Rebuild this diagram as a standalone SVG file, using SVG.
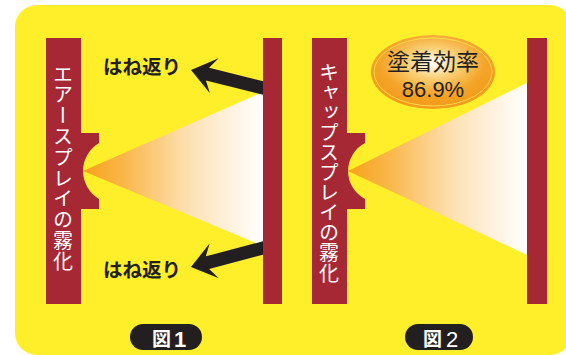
<svg xmlns="http://www.w3.org/2000/svg" width="566" height="355" viewBox="0 0 566 355">
<defs>
<style>
.bar{fill:#A52834;}
.vt{font-family:"Noto Sans CJK JP","Noto Sans",sans-serif;font-size:20px;fill:#FFFFFF;writing-mode:vertical-rl;}
.lbl{font-family:"Noto Sans CJK JP","Noto Sans",sans-serif;font-size:19.5px;font-weight:bold;fill:#231F20;}
.arrow{fill:#231F20;}
.pill{fill:#231F20;}
.pt{font-family:"Noto Sans CJK JP","Liberation Sans",sans-serif;font-size:19px;font-weight:bold;fill:#FFFFFF;}
.pn{font-family:"Liberation Sans",sans-serif;font-size:22px;font-weight:bold;fill:#FFFFFF;}
</style>
<linearGradient id="cone1" gradientUnits="userSpaceOnUse" x1="83" y1="0" x2="263" y2="0">
<stop offset="0" stop-color="#F7A21B"/>
<stop offset="0.2" stop-color="#F9B443"/>
<stop offset="0.6" stop-color="#FDE2B6"/>
<stop offset="1" stop-color="#FFFFFF"/>
</linearGradient>
<linearGradient id="cone2" gradientUnits="userSpaceOnUse" x1="348" y1="0" x2="527" y2="0">
<stop offset="0" stop-color="#F7A21B"/>
<stop offset="0.2" stop-color="#F9B443"/>
<stop offset="0.6" stop-color="#FDE2B6"/>
<stop offset="1" stop-color="#FFFFFF"/>
</linearGradient>
<radialGradient id="oval" cx="0.5" cy="0.38" r="0.55">
<stop offset="0" stop-color="#FFFFFF"/>
<stop offset="0.35" stop-color="#FAD27A"/>
<stop offset="0.75" stop-color="#F4A52A"/>
<stop offset="1" stop-color="#F39C1E"/>
</radialGradient>
<path id="arr" d="M0,0 L24,-18 L17,-6.5 L78,-6.5 L78,6.5 L17,6.5 L24,18 Z"/>
</defs>

<rect x="15" y="5" width="557" height="350" rx="22" fill="#FFEF2A"/>

<g id="figure1">
<polygon id="cone-1" points="83,171 263,92 263,246" fill="url(#cone1)"/>
<g id="connectors">
<use href="#arr" class="arrow" transform="translate(191,70) rotate(14)"/>
<use href="#arr" class="arrow" transform="translate(191,267) rotate(-14.8)"/>
</g>
<g id="spray-air">
<path class="bar" d="M46,38 H81 V133 H99 V143 A32.5,32.5 0 0 0 99,199 V209 H81 V304 H46 Z"/>
<text class="vt" x="63" y="64" style="letter-spacing:0.8px">エアースプレイの霧化</text>
</g>
<g id="wall-1">
<rect class="bar" x="263" y="38" width="19" height="266"/>
</g>
<g id="label-bounce-top"><text class="lbl" x="103" y="74">はね返り</text></g>
<g id="label-bounce-bottom"><text class="lbl" x="103" y="277">はね返り</text></g>
<g id="caption-1">
<rect class="pill" x="130" y="324" width="72" height="26" rx="13"/>
<text class="pt" x="152" y="346">図</text>
<text class="pn" x="174" y="347">1</text>
</g>
</g>

<g id="figure2">
<polygon id="cone-2" points="348,171 527,83 527,255" fill="url(#cone2)"/>
<g id="spray-cap">
<path class="bar" d="M312,38 H347 V133 H365 V143 A31.6,31.6 0 0 0 365,199 V209 H347 V304 H312 Z"/>
<text class="vt" x="329" y="62" style="letter-spacing:0.1px">キャップスプレイの霧化</text>
</g>
<g id="wall-2">
<rect class="bar" x="527" y="38" width="20" height="266"/>
</g>
<g id="efficiency">
<ellipse cx="433" cy="72" rx="62" ry="37" fill="url(#oval)"/>
<ellipse cx="433" cy="72" rx="59" ry="34" fill="none" stroke="#FFD84A" stroke-width="1"/>
<text x="433" y="70" text-anchor="middle" font-family="Noto Sans CJK JP, sans-serif" font-size="23" fill="#231F20">塗着効率</text>
<text x="433" y="97" text-anchor="middle" font-family="Liberation Sans, sans-serif" font-size="22" fill="#231F20">86.9%</text>
</g>
<g id="caption-2">
<rect class="pill" x="405" y="324" width="68" height="26" rx="13"/>
<text class="pt" x="423" y="346">図</text>
<text class="pn" x="446" y="347" style="font-weight:normal">2</text>
</g>
</g>
</svg>
